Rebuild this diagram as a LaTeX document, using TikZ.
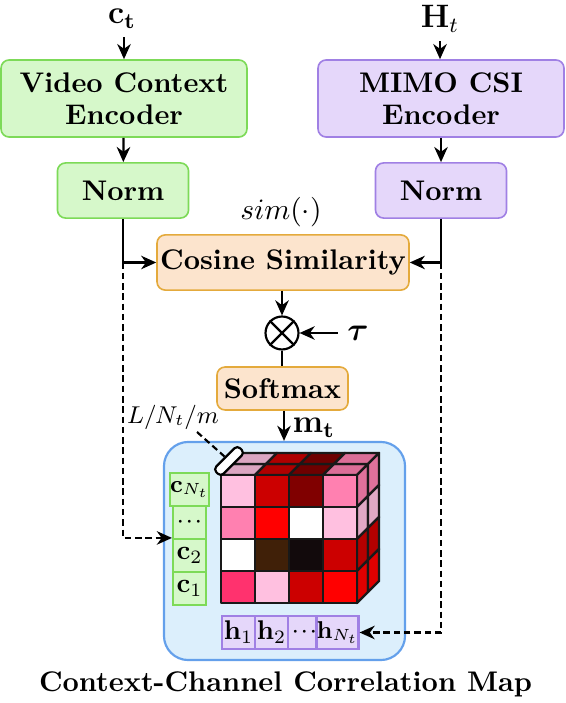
\documentclass[tikz,border=0pt]{standalone}
\usepackage{amsmath}
\usetikzlibrary{arrows.meta,calc}
\definecolor{gfill}{RGB}{214,248,202}
\definecolor{gdraw}{RGB}{125,218,88}
\definecolor{pfill}{RGB}{229,215,250}
\definecolor{pdraw}{RGB}{160,128,228}
\definecolor{ofill}{RGB}{252,228,205}
\definecolor{odraw}{RGB}{228,170,60}
\definecolor{bfill}{RGB}{220,239,252}
\definecolor{bdraw}{RGB}{100,160,235}
\definecolor{lp}{RGB}{255,192,224}
\definecolor{rd}{RGB}{204,0,0}
\definecolor{dr}{RGB}{128,0,0}
\definecolor{pk}{RGB}{255,128,176}
\definecolor{rr}{RGB}{255,0,0}
\definecolor{wh}{RGB}{255,255,255}
\definecolor{br}{RGB}{64,32,8}
\definecolor{bk}{RGB}{18,10,12}
\definecolor{hp}{RGB}{255,50,110}
\newcommand{\threedots}{\mathord{\cdot}\mkern1mu\mathord{\cdot}\mkern1mu\mathord{\cdot}}
\begin{document}
\begin{tikzpicture}[x=0.37pt,y=-0.37pt,
  box/.style={rounded corners=3pt,line width=0.6pt,align=center,font=\fontsize{10.5}{12.4}\selectfont\bfseries,inner sep=0pt},
  gbox/.style={box,fill=gfill,draw=gdraw},
  pbox/.style={box,fill=pfill,draw=pdraw},
  obox/.style={box,fill=ofill,draw=odraw},
  arr/.style={-{Stealth[length=5.6pt,width=5pt,inset=1.8pt]},line width=0.8pt},
  dsh/.style={dash pattern=on 2.4pt off 1.4pt,line width=0.8pt},
  cubeline/.style={draw=black!90,line width=0.9pt,line join=round},
  ccell/.style={draw=gdraw,fill=gfill,line width=0.8pt,minimum width=12.2pt,minimum height=12.2pt,inner sep=0pt},
  hcell/.style={draw=pdraw,fill=pfill,line width=0.8pt,minimum width=12.2pt,minimum height=12.2pt,inner sep=0pt}]
\useasboundingbox (0,0) rectangle (565,703);

% inputs
\node[font=\large,inner sep=1pt] (ct) at (122,19) {$\mathbf{c_t}$};
\node[font=\large,inner sep=1pt] (Ht) at (440,19) {$\mathbf{H}_t$};

% encoders
\node[gbox,minimum width=91pt,minimum height=28.5pt] (vce) at (124,98.5) {Video Context\\[-0.5pt]Encoder};
\node[pbox,minimum width=91pt,minimum height=28.5pt] (mimo) at (441,98.5) {MIMO CSI\\[-0.5pt]Encoder};
\node[gbox,minimum width=48.5pt,minimum height=20.4pt] (ng) at (123,190.5) {Norm};
\node[pbox,minimum width=48.5pt,minimum height=20.4pt] (np) at (441,190.5) {Norm};

\draw[arr,shorten <=2pt] (ct.south -| vce.north) -- (vce.north);
\draw[arr,shorten <=2pt] (Ht.south) -- (mimo.north -| Ht.south);
\draw[arr] (vce) -- (ng);
\draw[arr] (mimo) -- (np);

% similarity
\node[font=\fontsize{10.5}{12}\selectfont] (sim) at (281,212) {$sim(\cdot)$};
\node[obox,minimum width=93.2pt,minimum height=20.4pt] (cos) at (283,262.5) {Cosine Similarity};
\coordinate (jl) at (ng.south |- cos.west);
\coordinate (jr) at (np.south |- cos.east);
\draw[arr] (ng.south) -- (jl) -- (cos.west);
\draw[arr] (np.south) -- (jr) -- (cos.east);

\node[circle,draw,line width=0.8pt,minimum size=12.2pt,inner sep=0pt] (ot) at (282,333) {};
\draw[line width=0.8pt] (ot.north west) -- (ot.south east) (ot.north east) -- (ot.south west);
\draw[arr] (cos.south -| ot) -- (ot);
\node[font=\large] (tau) at (358,333) {$\boldsymbol{\tau}$};
\draw[arr] (tau) -- (ot);

\node[obox,minimum width=48.5pt,minimum height=15.9pt] (soft) at (282.5,388.5) {Softmax};
\draw[line width=0.8pt] (ot) -- (soft.north -| ot);

% map region
\node[draw=bdraw,fill=bfill,line width=0.8pt,rounded corners=9pt,minimum width=89.2pt,minimum height=80.7pt,inner sep=0pt] (blue) at (284.5,551) {};
\draw[arr] (soft.south -| 284,0) -- (blue.north -| 284,0);
\node[font=\large] (mt) at (314,428) {$\mathbf{m_t}$};

% cube: top face
\foreach \c [count=\i from 0] in {lp,rd,dr,pk} {
  \foreach \k in {0,1} {
    \filldraw[fill=\c!86!black,cubeline] ({221+34*\i+11*\k},{475-11*\k}) -- ++(34,0) -- ++(11,-11) -- ++(-34,0) -- cycle;
  }
}
% cube: right face
\foreach \c [count=\j from 0] in {pk,lp,rd,rr} {
  \foreach \k in {0,1} {
    \filldraw[fill=\c!88!black,cubeline] ({357+11*\k},{475+32*\j-11*\k}) -- ++(11,-11) -- ++(0,32) -- ++(-11,11) -- cycle;
  }
}
% cube: front face
\foreach \row/\cols in {0/{lp,rd,dr,pk},1/{pk,rr,wh,lp},2/{wh,br,bk,rd},3/{hp,lp,rd,rr}} {
  \foreach \c [count=\i from 0] in \cols {
    \filldraw[fill=\c,cubeline] ({221+34*\i},{475+32*\row}) rectangle ++(34,32);
  }
}

% tab and its label
\node[draw,fill=white,rounded corners=1.5pt,rotate=45,minimum width=12.5pt,minimum height=3.8pt,inner sep=0pt,line width=0.8pt] (tab) at (229,461) {};
\node[font=\small] (lnm) at (173,417) {$L/N_t/m$};
\coordinate (lpt) at (197,432);
\draw[dsh] (lpt) -- (tab.north);

% context column
\node[ccell,font=\small] (cN) at (189.5,489.5) {$\mathbf{c}_{N_t}$};
\node[ccell] (cd) at (189.5,522.5) {$\threedots$};
\node[ccell] (c2) at (189.5,555.5) {$\mathbf{c}_2$};
\node[ccell] (c1) at (189.5,588.5) {$\mathbf{c}_1$};

% channel row
\node[hcell] (h1) at (238.5,632.5) {$\mathbf{h}_1$};
\node[hcell] (h2) at (271.5,632.5) {$\mathbf{h}_2$};
\node[hcell] (hd) at (304.5,632.5) {$\threedots$};
\node[hcell,font=\small] (hN) at (337.5,632.5) {$\mathbf{h}_{N_t}$};

% dashed links
\draw[dsh,arr] (jl) |- (c2.north west);
\draw[dsh,arr] (jr) |- (hN.east);

% caption
\node[font=\fontsize{10.5}{12}\selectfont\bfseries] (cap) at (285.5,684) {Context-Channel Correlation Map};
\end{tikzpicture}
\end{document}
